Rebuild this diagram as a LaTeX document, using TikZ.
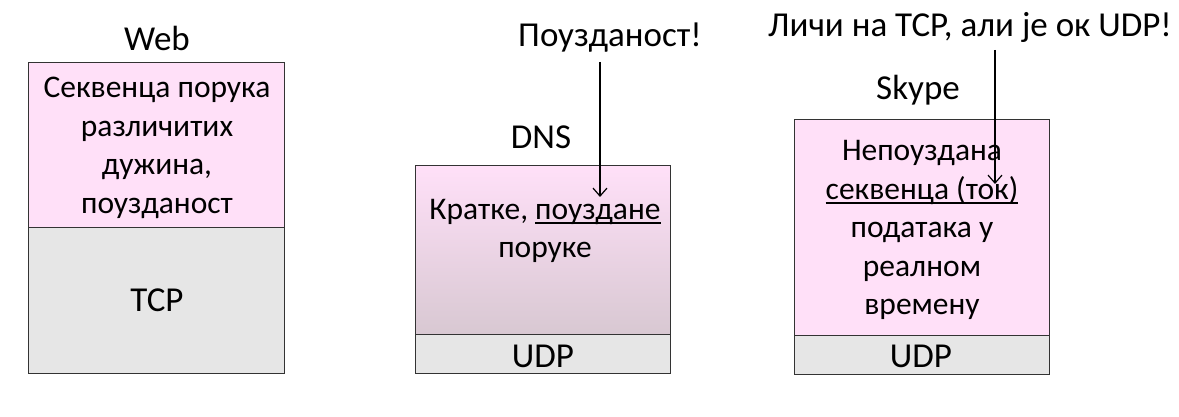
\documentclass[tikz,border=0pt]{standalone}
\usepackage{fontspec}
\setmainfont{Carlito}
\usetikzlibrary{arrows.meta}
\definecolor{pinkfill}{RGB}{255,224,248}
\definecolor{grayfill}{RGB}{230,230,230}
\definecolor{dnsbottom}{RGB}{216,200,210}
\newcommand\myul[1]{\setbox0\hbox{#1}\rlap{\raisebox{-4.5pt}{\rule{\wd0}{1.8pt}}}\box0}
\tikzset{
  box/.style={draw=black!80, line width=1.2pt, inner sep=0pt, anchor=north west},
  lbl/.style={font=\fontsize{35}{42}\selectfont, inner sep=0pt, align=center},
  txt/.style={font=\fontsize{31.5}{38.5}\selectfont, inner sep=0pt, align=center},
  conn/.style={line width=1.2pt, -{Straight Barb[length=8pt,width=14pt,line width=1.2pt]}}
}
\begin{document}
\begin{tikzpicture}[x=1pt,y=-1pt]
\useasboundingbox (0,0) rectangle (1179,417);
% Web
\node[lbl] (weblbl) at (157,38) {Web};
\node[box, fill=pinkfill, minimum width=256pt, minimum height=165pt] (webapp) at (28,62) {};
\node[box, fill=grayfill, minimum width=256pt, minimum height=146pt] (webtcp) at (28,227) {};
\node[txt] (webtxt) at (157,148) {Секвенца порука\\различитих\\дужина,\\поузданост};
\node[lbl] (tcp) at (157,300) {TCP};
% DNS
\node[lbl] (dnslbl) at (541,137) {DNS};
\node[box, top color=pinkfill, bottom color=dnsbottom, minimum width=255pt, minimum height=169pt] (dnsapp) at (415,165) {};
\node[box, fill=grayfill, minimum width=255pt, minimum height=39pt] (dnsudp) at (415,334) {};
\node[txt] (dnstxt) at (545,231) {Кратке, \myul{поуздане}\\поруке};
\node[lbl] (udpa) at (543,356) {UDP};
\node[lbl] (rel) at (610,38) {Поузданост!};
\coordinate (relstart) at (600,62);
\coordinate (relend) at (600,197);
\draw[conn] (relstart) -- (relend);
% Skype
\node[lbl] (skypelbl) at (918,90) {Skype};
\node[box, fill=pinkfill, minimum width=255pt, minimum height=216pt] (skypeapp) at (794,119) {};
\node[box, fill=grayfill, minimum width=255pt, minimum height=39pt] (skypeudp) at (794,335) {};
\node[txt] (skypetxt) at (922,230) {Непоуздана\\\myul{секвенца (ток)}\\података у\\реалном\\времену};
\node[lbl] (udpb) at (921,356) {UDP};
\node[lbl] (tcpnote) at (970,27) {Личи на TCP, али је ок UDP!};
\coordinate (notestart) at (995,50);
\coordinate (noteend) at (995,184);
\draw[conn] (notestart) -- (noteend);
\end{tikzpicture}
\end{document}
